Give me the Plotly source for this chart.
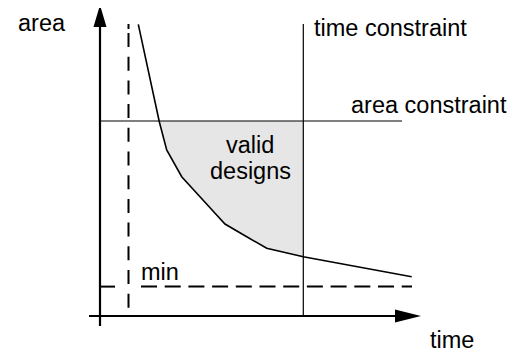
import plotly.graph_objects as go

# Conceptual design-space curve (time vs area), in drawing units
curve_time = [38.3, 49.0, 59.3, 66.7, 81.7, 113.0, 125.0, 146.7, 166.7, 203.3, 311.7]
curve_area = [291.7, 243.0, 194.3, 166.0, 139.3, 105.0, 92.0, 79.3, 67.7, 59.3, 39.3]

time_constraint = 203.3
area_constraint = 195.0
min_time = 28.5
min_area = 29.4

x_axis_end = 321.0
y_axis_end = 311.0

FONT = "Liberation Sans, Arial, Helvetica, sans-serif"
FS = 23.5

# valid-design region: above the curve, below area constraint, left of time constraint
fx, fy = [], []
for t, a in zip(curve_time, curve_area):
    if a <= area_constraint and t <= time_constraint:
        fx.append(t)
        fy.append(a)
poly_x = [fx[0]] + fx + [time_constraint, time_constraint, fx[0]]
poly_y = [area_constraint] + fy + [fy[-1], area_constraint, area_constraint]

fig = go.Figure()
fig.add_trace(go.Scatter(x=poly_x, y=poly_y, fill="toself", fillcolor="#e6e6e6",
                         line=dict(width=0, color="rgba(0,0,0,0)"), mode="lines",
                         hoverinfo="skip", showlegend=False))
fig.add_trace(go.Scatter(x=curve_time, y=curve_area, mode="lines",
                         line=dict(color="black", width=1.6), showlegend=False))

shapes = []
def line(x0, y0, x1, y1, w=1, dash=None):
    d = dict(type="line", xref="x", yref="y", x0=x0, y0=y0, x1=x1, y1=y1,
             line=dict(color="black", width=w), layer="above")
    if dash:
        d["line"]["dash"] = dash
    shapes.append(d)

# axes
line(0, -10, 0, y_axis_end - 20, w=2.2)
line(-11, 0, x_axis_end - 24, 0, w=2.2)
# arrowheads
shapes.append(dict(type="path", xref="x", yref="y",
                   path=f"M -6.5,{y_axis_end-22} L 0,{y_axis_end} L 6.5,{y_axis_end-22} Z",
                   fillcolor="black", line=dict(width=0), layer="above"))
shapes.append(dict(type="path", xref="x", yref="y",
                   path=f"M {x_axis_end-26},-6.5 L {x_axis_end},0 L {x_axis_end-26},6.5 Z",
                   fillcolor="black", line=dict(width=0), layer="above"))
# constraints
line(time_constraint, 0, time_constraint, 292, w=1.2)
line(0, area_constraint, 302, area_constraint, w=1.2)
# minimum bounds (dashed)
line(min_time, 292, min_time, 287, w=2)
line(min_time, 283, min_time, 0, w=2, dash="14px,9.7px")
line(1, min_area, 15, min_area, w=2)
line(41, min_area, 312, min_area, w=2, dash="16px,7.7px")

def label(x, y, text, xanchor="left"):
    return dict(x=x, y=y + 8, xref="x", yref="y", text=text, showarrow=False,
                xanchor=xanchor, yanchor="middle",
                font=dict(family=FONT, size=FS, color="black"))

annotations = [
    label(-84, 285, "area"),
    label(212, 280, "time constraint"),
    label(409, 203, "area constraint", "right"),
    label(150, 163, "valid", "center"),
    label(150, 137, "designs", "center"),
    label(39, 36, "min"),
    label(328, -32, "time"),
]

# the page body adds an 8px offset; size/ranges compensate so the drawing lands in place
fig.update_layout(
    width=509, height=344,
    margin=dict(l=0, r=0, t=0, b=0),
    paper_bgcolor="white", plot_bgcolor="white",
    xaxis=dict(range=[-92, 417], visible=False, fixedrange=True),
    yaxis=dict(range=[-36, 308], visible=False, fixedrange=True),
    shapes=shapes, annotations=annotations, showlegend=False,
)

fig.write_html("out.html")
